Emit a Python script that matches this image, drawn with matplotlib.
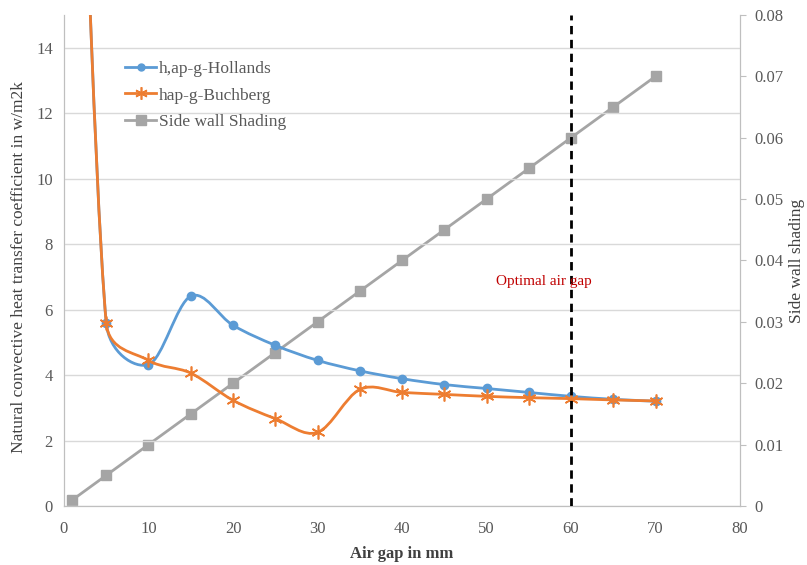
import numpy as np
import matplotlib
matplotlib.use('Agg')
import matplotlib.pyplot as plt
from matplotlib.path import Path
from matplotlib.patches import PathPatch
from matplotlib.lines import Line2D

plt.rcParams['font.family'] = ['Liberation Serif', 'DejaVu Serif']

# data
air_gap = [1, 5, 10, 15, 20, 25, 30, 35, 40, 45, 50, 55, 60, 65, 70]
h_hollands = [30.0, 5.59, 4.32, 6.41, 5.52, 4.91, 4.45, 4.13, 3.89, 3.71, 3.59, 3.47, 3.35, 3.26, 3.20]
h_buchberg = [30.0, 5.59, 4.45, 4.06, 3.23, 2.67, 2.25, 3.56, 3.47, 3.41, 3.35, 3.31, 3.28, 3.24, 3.21]
side_shading = [0.001, 0.005, 0.01, 0.015, 0.02, 0.025, 0.03, 0.035, 0.04, 0.045, 0.05, 0.055, 0.06, 0.065, 0.07]

names = ['h,ap-g-Hollands', 'hap-g-Buchberg', 'Side wall Shading']
optimal_gap = 60

blue = '#5B9BD5'
orange = '#ED7D31'
grey = '#A5A5A5'
tick_col = '#595959'


def smooth_path(ax, x, y):
	# excel style smoothed line, worked out in pixel space, control arms clamped
	tr = ax.transData
	pts = tr.transform(np.column_stack([x, y]).astype(float))
	n = len(pts)
	verts = [pts[0]]
	codes = [Path.MOVETO]

	def arm(i, sign):
		p1 = pts[i]
		p0 = pts[i - 1] if i > 0 else pts[i]
		p2 = pts[i + 1] if i + 1 < n else pts[i]
		d = p2 - p0
		d02 = np.hypot(*d)
		if d02 == 0:
			return p1
		seg = pts[i + 1] - p1 if sign > 0 else pts[i - 1] - p1
		length = min(d02 / 6.0, np.hypot(*seg) / 2.0)
		return p1 + sign * d / d02 * length

	for i in range(n - 1):
		verts += [arm(i, 1), arm(i + 1, -1), pts[i + 1]]
		codes += [Path.CURVE4] * 3
	verts = tr.inverted().transform(np.array(verts))
	return Path(verts, codes)


fig = plt.figure(figsize=(8.07, 5.65), dpi=100)
ax1 = fig.add_axes([0.0793, 0.1044, 0.8377, 0.8691])
ax2 = ax1.twinx()

ax1.set_zorder(ax2.get_zorder() + 1)
ax1.patch.set_visible(False)

ax1.set_xlim(0, 80)
ax1.set_ylim(0, 15)

# side wall shading on right axis
ax2.plot(air_gap, side_shading, color=grey, lw=2, marker='s', ms=7, zorder=3)
ax2.set_ylim(0, 0.08)
ax2.set_yticks(np.arange(0, 0.081, 0.01))
ax2.set_yticklabels(['0'] + ['%.2f' % v for v in np.arange(0.01, 0.081, 0.01)])

ax1.add_patch(PathPatch(smooth_path(ax1, air_gap, h_hollands), fill=False, edgecolor=blue, lw=2, zorder=3))
ax1.plot(air_gap, h_hollands, ls='none', marker='o', ms=6, color=blue, zorder=4)
ax1.add_patch(PathPatch(smooth_path(ax1, air_gap, h_buchberg), fill=False, edgecolor=orange, lw=2, zorder=5))
ax1.plot(air_gap, h_buchberg, ls='none', marker=(6, 2, 0), ms=10, mew=1.2, color=orange, zorder=6)

ax1.plot([optimal_gap, optimal_gap], [0, 15], color='black', lw=2, ls=(0, (3, 2)), zorder=7)
ax1.text(56.8, 6.85, 'Optimal air gap', color='#C00000', fontsize=11, ha='center', va='center', zorder=8)

ax1.set_xticks(range(0, 81, 10))
ax1.set_yticks(range(0, 15, 2))
ax1.grid(axis='y', color='#D9D9D9', lw=1)
ax1.set_axisbelow(True)

for a in (ax1, ax2):
	for s in a.spines.values():
		s.set_color('#BFBFBF')
	a.spines['top'].set_visible(False)
ax1.tick_params(axis='both', length=0, labelsize=12, colors=tick_col)
ax1.tick_params(axis='x', pad=11)
ax1.tick_params(axis='y', pad=8)
ax2.tick_params(axis='y', length=4, color='#BFBFBF', labelsize=12, colors=tick_col, pad=6)

ax1.set_xlabel('Air gap in mm', fontsize=12, fontweight='bold', color='#404040', labelpad=6)
ax1.set_ylabel('Natural convective heat transfer coefficient in w/m2k', fontsize=12.5, color='#404040')
ax1.yaxis.set_label_coords(-0.055, 0.487)
ax2.set_ylabel('Side wall shading', fontsize=12.5, color='#404040', labelpad=4)

handles = [
	Line2D([], [], color=blue, lw=2, marker='o', ms=5),
	Line2D([], [], color=orange, lw=2, marker=(6, 2, 0), ms=9, mew=1.2),
	Line2D([], [], color=grey, lw=2, marker='s', ms=7),
]
leg = fig.legend(handles, names, loc='upper left', bbox_to_anchor=(0.155, 0.893), frameon=False,
	fontsize=12.5, handlelength=1.8, handletextpad=0.15, labelspacing=0.62, borderpad=0, borderaxespad=0)
for t in leg.get_texts():
	t.set_color(tick_col)

fig.savefig('out.png', dpi=100)
